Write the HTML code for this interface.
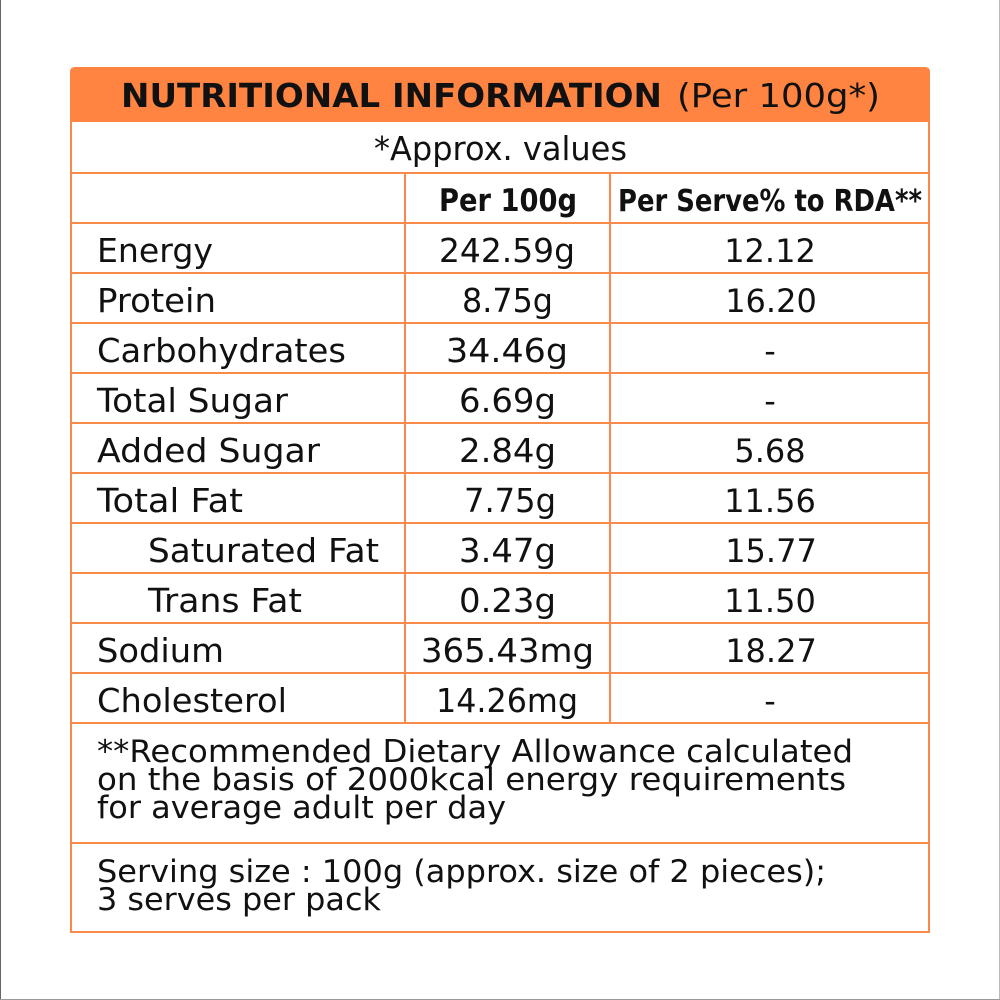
<!DOCTYPE html>
<html>
<head>
<meta charset="utf-8">
<style>
  html, body { margin:0; padding:0; background:#fff; }
  body { width:1000px; height:1000px; overflow:hidden; position:relative; }
  svg { position:absolute; left:0; top:0; }
  text { font-family: "DejaVu Sans", "Liberation Sans", sans-serif; fill:#111; }
  .b { font-weight:bold; }
</style>
</head>
<body>
<svg width="1000" height="1000" viewBox="0 0 1000 1000" xmlns="http://www.w3.org/2000/svg">
  <!-- page border -->
  <line x1="0.5" y1="0" x2="0.5" y2="1000" stroke="#666" stroke-width="1"/>
  <line x1="999.5" y1="0" x2="999.5" y2="1000" stroke="#bbb" stroke-width="1"/>
  <line x1="0" y1="999.5" x2="1000" y2="999.5" stroke="#999" stroke-width="1"/>

  <!-- header fill -->
  <path d="M70,122 L70,72 Q70,67 75,67 L925,67 Q930,67 930,72 L930,122 Z" fill="#FF8441"/>

  <!-- outer border -->
  <path d="M71,122 L71,932 L929,932 L929,122" fill="none" stroke="#F98A4B" stroke-width="2"/>

  <!-- horizontal lines -->
  <g stroke="#F98A4B" stroke-width="2">
    <line x1="70" y1="173" x2="930" y2="173"/>
    <line x1="70" y1="223" x2="930" y2="223"/>
    <line x1="70" y1="273" x2="930" y2="273"/>
    <line x1="70" y1="323" x2="930" y2="323"/>
    <line x1="70" y1="373" x2="930" y2="373"/>
    <line x1="70" y1="423" x2="930" y2="423"/>
    <line x1="70" y1="473" x2="930" y2="473"/>
    <line x1="70" y1="523" x2="930" y2="523"/>
    <line x1="70" y1="573" x2="930" y2="573"/>
    <line x1="70" y1="623" x2="930" y2="623"/>
    <line x1="70" y1="673" x2="930" y2="673"/>
    <line x1="70" y1="723" x2="930" y2="723"/>
    <line x1="70" y1="843" x2="930" y2="843"/>
    <!-- vertical -->
    <line x1="405" y1="173" x2="405" y2="723"/>
    <line x1="610" y1="173" x2="610" y2="723"/>
  </g>

  <!-- title -->
  <text x="121" y="107" font-size="33" class="b" textLength="541" lengthAdjust="spacingAndGlyphs">NUTRITIONAL INFORMATION</text>
  <text x="677" y="107" font-size="33" textLength="203" lengthAdjust="spacingAndGlyphs">(Per 100g*)</text>

  <text x="374" y="160" font-size="33" textLength="253" lengthAdjust="spacingAndGlyphs">*Approx. values</text>

  <!-- column headers -->
  <text x="439" y="211" font-size="31" class="b" textLength="138" lengthAdjust="spacingAndGlyphs">Per 100g</text>
  <text x="618" y="211" font-size="30" class="b" textLength="304" lengthAdjust="spacingAndGlyphs">Per Serve% to RDA**</text>

  <!-- labels -->
  <g font-size="33">
    <text x="97" y="262" textLength="116" lengthAdjust="spacingAndGlyphs">Energy</text>
    <text x="97" y="312" textLength="119" lengthAdjust="spacingAndGlyphs">Protein</text>
    <text x="97" y="362" textLength="249" lengthAdjust="spacingAndGlyphs">Carbohydrates</text>
    <text x="97" y="412" textLength="191" lengthAdjust="spacingAndGlyphs">Total Sugar</text>
    <text x="97" y="462" textLength="223" lengthAdjust="spacingAndGlyphs">Added Sugar</text>
    <text x="97" y="512" textLength="146" lengthAdjust="spacingAndGlyphs">Total Fat</text>
    <text x="148" y="562" textLength="231" lengthAdjust="spacingAndGlyphs">Saturated Fat</text>
    <text x="148" y="612" textLength="154" lengthAdjust="spacingAndGlyphs">Trans Fat</text>
    <text x="97" y="662" textLength="127" lengthAdjust="spacingAndGlyphs">Sodium</text>
    <text x="97" y="712" textLength="190" lengthAdjust="spacingAndGlyphs">Cholesterol</text>
  </g>

  <!-- per 100g values -->
  <g font-size="33">
    <text x="439" y="262" textLength="136" lengthAdjust="spacingAndGlyphs">242.59g</text>
    <text x="462" y="312" textLength="91" lengthAdjust="spacingAndGlyphs">8.75g</text>
    <text x="446" y="362" textLength="122" lengthAdjust="spacingAndGlyphs">34.46g</text>
    <text x="459" y="412" textLength="97" lengthAdjust="spacingAndGlyphs">6.69g</text>
    <text x="459" y="462" textLength="97" lengthAdjust="spacingAndGlyphs">2.84g</text>
    <text x="464" y="512" textLength="92" lengthAdjust="spacingAndGlyphs">7.75g</text>
    <text x="459" y="562" textLength="97" lengthAdjust="spacingAndGlyphs">3.47g</text>
    <text x="459" y="612" textLength="97" lengthAdjust="spacingAndGlyphs">0.23g</text>
    <text x="421" y="662" textLength="173" lengthAdjust="spacingAndGlyphs">365.43mg</text>
    <text x="436" y="712" textLength="142" lengthAdjust="spacingAndGlyphs">14.26mg</text>
  </g>

  <!-- RDA values -->
  <g font-size="32" text-anchor="middle">
    <text x="770" y="262">12.12</text>
    <text x="771" y="312">16.20</text>
    <text x="770" y="362">-</text>
    <text x="770" y="412">-</text>
    <text x="770" y="462">5.68</text>
    <text x="770" y="512">11.56</text>
    <text x="771" y="562">15.77</text>
    <text x="770" y="612">11.50</text>
    <text x="771" y="662">18.27</text>
    <text x="770" y="712">-</text>
  </g>

  <!-- footnotes -->
  <g font-size="31">
    <text x="97" y="762" textLength="756" lengthAdjust="spacingAndGlyphs">**Recommended Dietary Allowance calculated</text>
    <text x="97" y="790" textLength="749" lengthAdjust="spacingAndGlyphs">on the basis of 2000kcal energy requirements</text>
    <text x="97" y="818" textLength="409" lengthAdjust="spacingAndGlyphs">for average adult per day</text>
    <text x="97" y="882" textLength="729" lengthAdjust="spacingAndGlyphs">Serving size : 100g (approx. size of 2 pieces);</text>
    <text x="97" y="910" textLength="284" lengthAdjust="spacingAndGlyphs">3 serves per pack</text>
  </g>
</svg>
</body>
</html>
